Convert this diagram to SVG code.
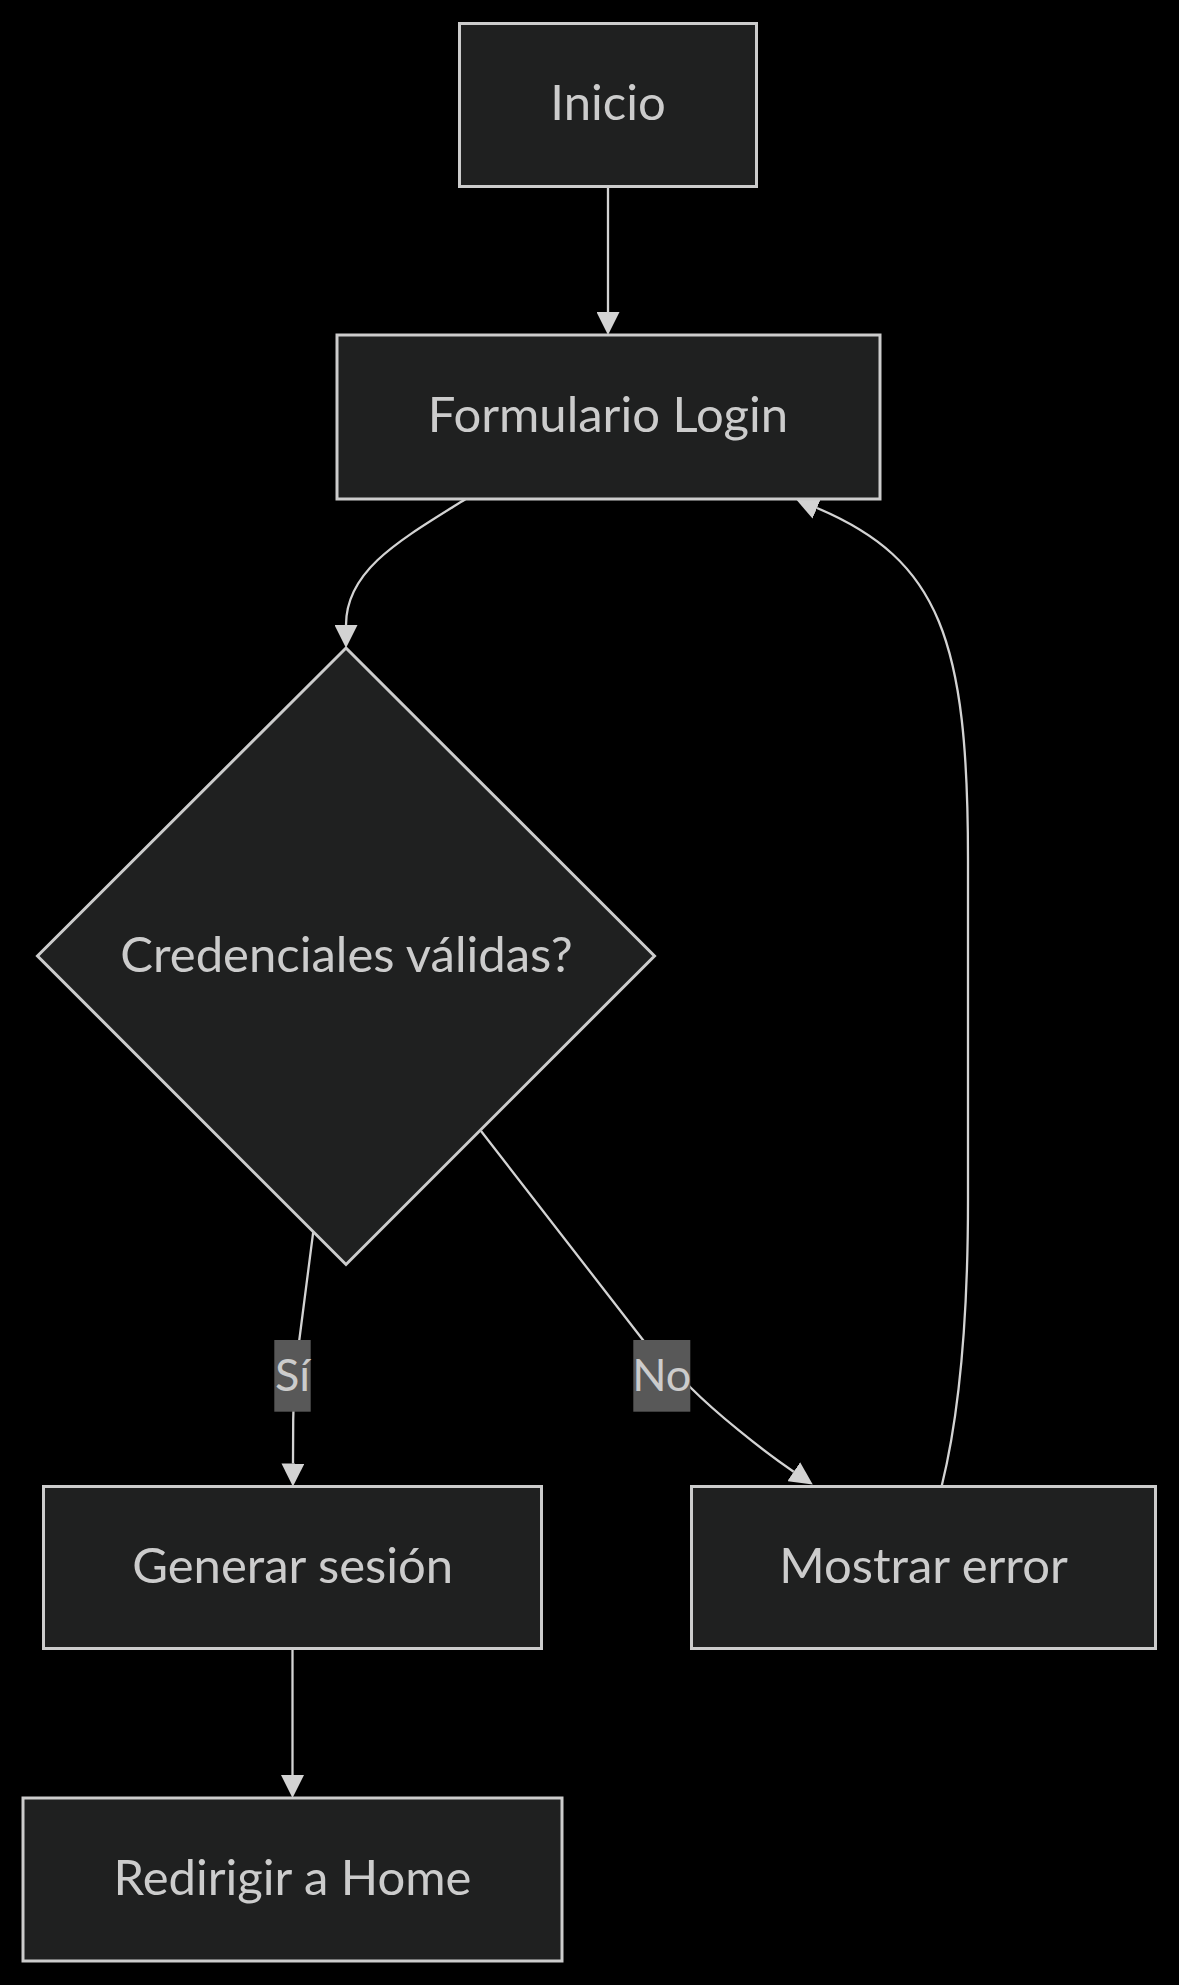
<svg xmlns="http://www.w3.org/2000/svg" width="1179" height="1985" viewBox="0 0 1179 1985">
<style>
.node{fill:#1f2020;stroke:#cccccc;stroke-width:3}
.lbl{font-family:Lato,"Liberation Sans",sans-serif;font-size:49px;fill:#cccccc;text-anchor:middle}
.elbl{font-family:Lato,"Liberation Sans",sans-serif;font-size:45px;fill:#cccccc;text-anchor:middle}
.edge{fill:none;stroke:#d3d3d3;stroke-width:2.3}
.elbg{fill:#585858}
</style>
<defs>
<marker id="arrow" viewBox="0 0 10 10" refX="0" refY="5" markerWidth="23" markerHeight="23" markerUnits="userSpaceOnUse" orient="auto">
<path d="M0,0 L10,5 L0,10 z" fill="#d3d3d3"/>
</marker>
</defs>
<rect width="1179" height="1985" fill="#000000"/>
<g id="connectors">
<path class="edge" d="M608,186.5 L608,312" marker-end="url(#arrow)"/>
<path class="edge" d="M465.7,499 C400,540 346,570 346,625" marker-end="url(#arrow)"/>
<path class="edge" d="M313.3,1231.3 L299.3,1340 Q293.5,1385 293.2,1420 L293,1463.5" marker-end="url(#arrow)"/>
<path class="edge" d="M481,1131 L643,1340 C655,1356 670,1370 690,1387 C715,1412 760,1449 793.7,1471.7" marker-end="url(#arrow)"/>
<path class="edge" d="M941.7,1486 C958,1420 968,1330 968,1200 L968,860 C968,640 940,560 817,508" marker-end="url(#arrow)"/>
<path class="edge" d="M292.5,1648.6 L292.5,1775" marker-end="url(#arrow)"/>
</g>
<g id="edge-label-si">
<rect class="elbg" x="274.3" y="1340" width="36.4" height="71.7"/>
<text class="elbl" x="292.5" y="1391">Sí</text>
</g>
<g id="edge-label-no">
<rect class="elbg" x="633.3" y="1340" width="57" height="71.7"/>
<text class="elbl" x="661.8" y="1391">No</text>
</g>
<g id="node-inicio">
<rect class="node" x="459.5" y="23.5" width="297" height="163"/>
<text class="lbl" x="608" y="120">Inicio</text>
</g>
<g id="node-formulario">
<rect class="node" x="337" y="335" width="543" height="164"/>
<text class="lbl" x="608" y="432">Formulario Login</text>
</g>
<g id="node-credenciales">
<polygon class="node" points="346,648 654.5,956 346,1264.5 37.5,956"/>
<text class="lbl" x="346.5" y="972">Credenciales válidas?</text>
</g>
<g id="node-generar">
<rect class="node" x="43.5" y="1486.5" width="498" height="162"/>
<text class="lbl" x="292.7" y="1583">Generar sesión</text>
</g>
<g id="node-mostrar">
<rect class="node" x="691.5" y="1486.5" width="464" height="162"/>
<text class="lbl" x="923.5" y="1583">Mostrar error</text>
</g>
<g id="node-redirigir">
<rect class="node" x="23" y="1798" width="539" height="163"/>
<text class="lbl" x="292.5" y="1895">Redirigir a Home</text>
</g>
</svg>
